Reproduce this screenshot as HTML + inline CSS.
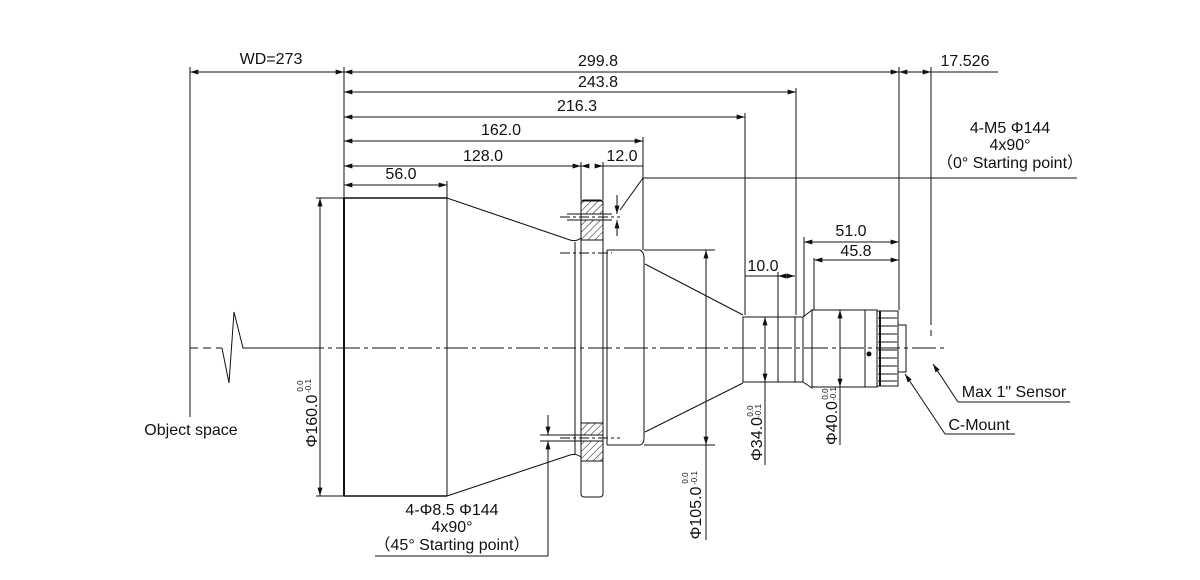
<!DOCTYPE html>
<html><head><meta charset="utf-8"><style>
html,body{margin:0;padding:0;background:#fff;}
svg{display:block;}
text{font-family:"Liberation Sans",sans-serif;fill:#111;}
</style></head><body>
<svg width="1200" height="580" viewBox="0 0 1200 580" xmlns="http://www.w3.org/2000/svg">
<defs>
<marker id="a" viewBox="0 0 10 6" refX="10" refY="3" markerWidth="9" markerHeight="5" orient="auto-start-reverse" markerUnits="userSpaceOnUse"><path d="M0,0L10,3L0,6z" fill="#111"/></marker>
<pattern id="h" width="5" height="5" patternUnits="userSpaceOnUse" patternTransform="rotate(45)"><line x1="0" y1="0" x2="0" y2="5" stroke="#111" stroke-width="1"/></pattern>
</defs>
<g stroke="#111" stroke-width="1" fill="none">
<line x1="190" y1="348" x2="222" y2="348" stroke-dasharray="8,5"/>
<polyline points="222,348 229,383 234,312 243,348 300,348"/>
<line x1="300" y1="348" x2="945" y2="348" stroke-dasharray="24,4,4,4"/>
<line x1="190" y1="67" x2="190" y2="417"/>
<line x1="344" y1="67" x2="344" y2="200"/>
<line x1="190" y1="72" x2="344" y2="72" marker-start="url(#a)" marker-end="url(#a)"/>
<line x1="344" y1="72" x2="899" y2="72" marker-start="url(#a)" marker-end="url(#a)"/>
<line x1="899" y1="72" x2="931" y2="72" marker-start="url(#a)" marker-end="url(#a)"/>
<line x1="931" y1="72" x2="998" y2="72"/>
<line x1="899" y1="67" x2="899" y2="310"/>
<line x1="931" y1="67" x2="931" y2="325"/>
<line x1="931" y1="330" x2="931" y2="336"/>
<line x1="344" y1="92" x2="796" y2="92" marker-start="url(#a)" marker-end="url(#a)"/>
<line x1="796" y1="88" x2="796" y2="315"/>
<line x1="344" y1="117" x2="745" y2="117" marker-start="url(#a)" marker-end="url(#a)"/>
<line x1="745" y1="113" x2="745" y2="315"/>
<line x1="344" y1="141" x2="643" y2="141" marker-start="url(#a)" marker-end="url(#a)"/>
<line x1="643" y1="137" x2="643" y2="250"/>
<line x1="344" y1="166" x2="581" y2="166" marker-start="url(#a)" marker-end="url(#a)"/>
<line x1="581" y1="162" x2="581" y2="200"/>
<line x1="603" y1="162" x2="603" y2="200"/>
<line x1="588" y1="166" x2="581" y2="166" marker-end="url(#a)"/>
<line x1="596" y1="166" x2="603" y2="166" marker-end="url(#a)"/>
<line x1="603" y1="166" x2="643" y2="166"/>
<line x1="344" y1="185" x2="447" y2="185" marker-start="url(#a)" marker-end="url(#a)"/>
<line x1="447" y1="181" x2="447" y2="198"/>
<line x1="320" y1="198" x2="320" y2="496" marker-start="url(#a)" marker-end="url(#a)"/>
<line x1="316" y1="496" x2="344" y2="496"/>
<line x1="316" y1="198" x2="344" y2="198"/>
<line x1="344" y1="198" x2="344" y2="496" stroke-width="2"/>
<line x1="344" y1="198" x2="447" y2="198" stroke-width="1.5"/>
<line x1="344" y1="496" x2="447" y2="496" stroke-width="1.5"/>
<line x1="447" y1="198" x2="447" y2="496"/>
<path d="M447,198 L570,240 Q576,242 581,238"/>
<path d="M447,496 L570,455 Q576,453 581,457"/>
<line x1="575" y1="242" x2="575" y2="454"/>
<line x1="581" y1="238" x2="581" y2="457"/>
<rect x="581" y="200" width="22" height="297" rx="3"/>
<rect x="581" y="201" width="22" height="13" fill="url(#h)"/>
<rect x="581" y="220" width="22" height="20" fill="url(#h)"/>
<rect x="581" y="423" width="22" height="12" fill="url(#h)"/>
<rect x="581" y="441" width="22" height="20" fill="url(#h)"/>
<line x1="567" y1="214" x2="612" y2="214"/>
<line x1="567" y1="220" x2="612" y2="220"/>
<line x1="560" y1="217" x2="620" y2="217" stroke-dasharray="10,3,3,3"/>
<line x1="540" y1="435" x2="603" y2="435"/>
<line x1="540" y1="441" x2="603" y2="441"/>
<line x1="560" y1="438" x2="620" y2="438" stroke-dasharray="10,3,3,3"/>
<line x1="560" y1="253" x2="612" y2="253" stroke-dasharray="10,3,3,3"/>
<line x1="617" y1="195" x2="617" y2="214" marker-end="url(#a)"/>
<line x1="617" y1="236" x2="617" y2="220" marker-end="url(#a)"/>
<line x1="548" y1="415" x2="548" y2="435" marker-end="url(#a)"/>
<line x1="548" y1="556" x2="548" y2="441" marker-end="url(#a)"/>
<line x1="375" y1="556" x2="548" y2="556"/>
<line x1="620" y1="210" x2="643" y2="178"/>
<line x1="643" y1="178" x2="1077" y2="178"/>
<line x1="603" y1="250" x2="603" y2="445"/>
<line x1="607" y1="250" x2="607" y2="445"/>
<path d="M607,250 L640,250 Q644,252 644,258 L644,438 Q644,444 640,445 L607,445"/>
<line x1="644" y1="250" x2="715" y2="250"/>
<line x1="644" y1="445" x2="715" y2="445"/>
<line x1="706" y1="250" x2="706" y2="445" marker-start="url(#a)" marker-end="url(#a)"/>
<line x1="706" y1="445" x2="706" y2="540"/>
<line x1="645" y1="264" x2="743" y2="315"/>
<line x1="645" y1="432" x2="743" y2="383"/>
<rect x="743" y="317" width="35" height="65"/>
<rect x="778" y="317" width="17" height="65"/>
<rect x="795" y="317" width="8" height="65"/>
<path d="M803,317 L812,310 L812,388 L803,382"/>
<rect x="812" y="310" width="53" height="77"/>
<rect x="865" y="310" width="12" height="77"/>
<rect x="877" y="311" width="21" height="75"/>
<line x1="878" y1="318" x2="897" y2="318"/><line x1="878" y1="326" x2="897" y2="326"/>
<line x1="878" y1="334" x2="897" y2="334"/><line x1="878" y1="342" x2="897" y2="342"/>
<line x1="878" y1="350" x2="897" y2="350"/><line x1="878" y1="358" x2="897" y2="358"/>
<line x1="878" y1="366" x2="897" y2="366"/><line x1="878" y1="374" x2="897" y2="374"/>
<line x1="878" y1="381" x2="897" y2="381"/>
<line x1="880" y1="311" x2="880" y2="386" stroke-width="2"/>
<rect x="898" y="325" width="8" height="47"/>
<circle cx="869" cy="354" r="2" fill="#111"/>
<line x1="745" y1="276" x2="778" y2="276"/>
<line x1="778" y1="272" x2="778" y2="317"/>
<line x1="778" y1="276" x2="795" y2="276" marker-start="url(#a)" marker-end="url(#a)"/>
<line x1="804" y1="237" x2="804" y2="317"/>
<line x1="814" y1="258" x2="814" y2="310"/>
<line x1="804" y1="242" x2="899" y2="242" marker-start="url(#a)" marker-end="url(#a)"/>
<line x1="814" y1="260" x2="899" y2="260" marker-start="url(#a)" marker-end="url(#a)"/>
<line x1="765" y1="317" x2="765" y2="382" marker-start="url(#a)" marker-end="url(#a)"/>
<line x1="765" y1="382" x2="765" y2="465"/>
<line x1="840" y1="310" x2="840" y2="387" marker-start="url(#a)" marker-end="url(#a)"/>
<line x1="840" y1="387" x2="840" y2="445"/>
<line x1="958" y1="402" x2="933" y2="364" marker-end="url(#a)"/>
<line x1="958" y1="402" x2="1070" y2="402"/>
<line x1="945" y1="434" x2="905" y2="374" marker-end="url(#a)"/>
<line x1="945" y1="434" x2="1015" y2="434"/>
</g>
<g font-size="16" text-anchor="middle">
<text x="271" y="64">WD=273</text>
<text x="598" y="66">299.8</text>
<text x="598" y="87">243.8</text>
<text x="577" y="111">216.3</text>
<text x="501" y="135">162.0</text>
<text x="483" y="161">128.0</text>
<text x="622" y="161">12.0</text>
<text x="401" y="179">56.0</text>
<text x="965" y="66">17.526</text>
<text x="1010" y="133">4-M5 Φ144</text>
<text x="1010" y="150">4x90°</text>
<text x="1010" y="168">（0° Starting point）</text>
<text x="763" y="271">10.0</text>
<text x="851" y="236">51.0</text>
<text x="856" y="256">45.8</text>
<text x="191" y="435">Object space</text>
<text x="1014" y="397">Max 1" Sensor</text>
<text x="979" y="430">C-Mount</text>
<text x="452" y="515">4-Φ8.5 Φ144</text>
<text x="452" y="532">4x90°</text>
<text x="452" y="550">（45° Starting point）</text>
<text transform="translate(317,421) rotate(-90)">Φ160.0</text>
<text transform="translate(701,513) rotate(-90)">Φ105.0</text>
<text transform="translate(762,439) rotate(-90)">Φ34.0</text>
<text transform="translate(837,423) rotate(-90)">Φ40.0</text>
</g>
<g font-size="8" text-anchor="middle">
<text transform="translate(303,386) rotate(-90)">0.0</text>
<text transform="translate(311,386) rotate(-90)">-0.1</text>
<text transform="translate(688,478) rotate(-90)">0.0</text>
<text transform="translate(697,478) rotate(-90)">-0.1</text>
<text transform="translate(753,411) rotate(-90)">0.0</text>
<text transform="translate(761,411) rotate(-90)">-0.1</text>
<text transform="translate(828,394) rotate(-90)">0.0</text>
<text transform="translate(836,394) rotate(-90)">-0.1</text>
</g>
</svg>
</body></html>
